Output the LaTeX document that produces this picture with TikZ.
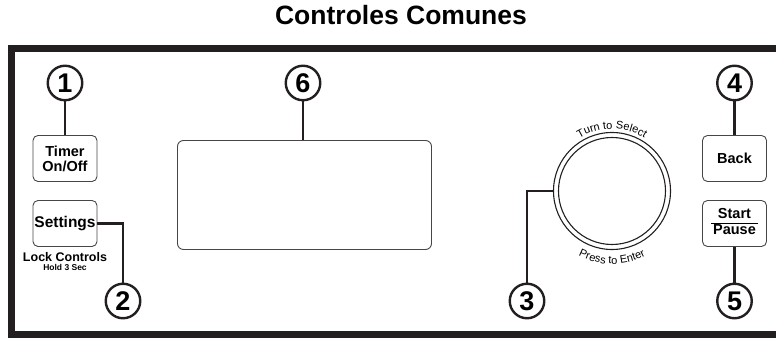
\documentclass[tikz,border=0pt]{standalone}
\usepackage{fontspec}
\setmainfont{Liberation Sans}
\usepackage{tikz}
\usetikzlibrary{positioning, decorations.text}
\definecolor{panelblack}{RGB}{35, 31, 32}
\definecolor{keygray}{RGB}{70, 70, 70}

\tikzset{
    numcircle/.style={circle, draw=panelblack, line width=2.4pt, minimum size=34.5pt, inner sep=0pt,
        font=\bfseries\fontsize{27}{27}\selectfont},
    ctrlbox/.style={draw=keygray, line width=0.9pt, rounded corners=5pt, minimum width=64pt,
        minimum height=46pt, inner sep=1pt, align=center, font=\bfseries\fontsize{14.5}{15}\selectfont},
    leader/.style={draw=panelblack, line width=2.4pt},
    knobring/.style={circle, draw=panelblack, line width=1.1pt, inner sep=0pt},
}

\begin{document}
\begin{tikzpicture}[x=1pt, y=1pt]
\useasboundingbox (0,0) rectangle (776,339);

% Title
\node[font=\bfseries\fontsize{26.5}{26.5}\selectfont] (title) at (401,324) {Controles Comunes};

% Panel frame, open at the right
\draw[panelblack, line width=7pt] (780,290.5) -- (11.5,290.5) -- (11.5,4) -- (780,4);

% Left keys
\node[ctrlbox] (timer) at (65,180.5) {Timer\\On/Off};
\node[ctrlbox, font=\bfseries\fontsize{15.5}{15.5}\selectfont] (settings) at (65,115.5) {Settings};
\node[font=\bfseries\fontsize{12.5}{12.5}\selectfont, below=2pt of settings] (lock) {Lock Controls};
\node[font=\bfseries\fontsize{8.5}{8.5}\selectfont, below=-4pt of lock] (hold) {Hold 3 Sec};

% Display window
\node[draw=keygray, line width=0.9pt, rounded corners=6pt, minimum width=254pt,
    minimum height=109pt] (display) at (304.5,144) {};

% Selector knob
\node[knobring, minimum size=117pt] (knob) at (612,148) {};
\node[knobring, minimum size=107pt] (knobinner) at (knob.center) {};
\path[decorate, decoration={text along path, text align=center,
    text={|\fontsize{11}{11}\selectfont|Turn to Select}}]
    ([shift={(130:62)}]knob.center) arc[start angle=130, end angle=50, radius=62];
\path[decorate, decoration={text along path, text align=center,
    text={|\fontsize{11}{11}\selectfont|Press to Enter}}]
    ([shift={(229:73)}]knob.center) arc[start angle=229, end angle=311, radius=73];

% Right keys
\node[ctrlbox] (back) at (734.5,180.5) {Back};
\node[ctrlbox] (startpause) at (734.5,115.5)
    {\setlength{\tabcolsep}{2.2pt}\setlength{\arrayrulewidth}{1.6pt}%
     \begin{tabular}{c}Start\\\hline Pause\end{tabular}};

% Numbered callouts
\node[numcircle] (n1) at (65,256) {1};
\node[numcircle] (n6) at (303,256) {6};
\node[numcircle] (n4) at (734.5,256) {4};
\node[numcircle] (n2) at (123,38) {2};
\node[numcircle] (n3) at (527,38) {3};
\node[numcircle] (n5) at (734.5,38) {5};

% Leaders
\draw[leader] (n1) -- (timer);
\draw[leader] (n6) -- (n6 |- display.north);
\draw[leader] (n4) -- (back);
\draw[leader] (startpause) -- (n5);
\draw[leader] (settings.east) -| (n2.north);
\draw[leader] (knob.west) -| (n3.north);
\end{tikzpicture}
\end{document}
